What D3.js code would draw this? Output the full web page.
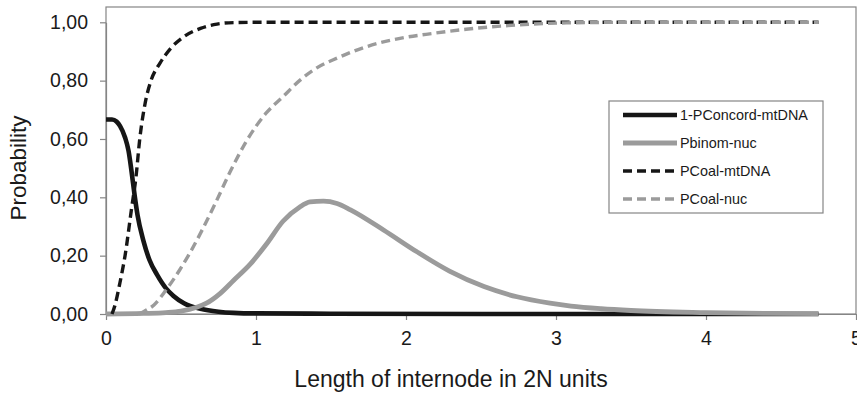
<!DOCTYPE html>
<html>
<head>
<meta charset="utf-8">
<script src="https://cdn.jsdelivr.net/npm/d3@7"></script>
<style>
  body { margin: 0; background: #fff; }
  text { font-family: "Liberation Sans", Arial, sans-serif; fill: #1a1a1a; }
</style>
</head>
<body>
<svg id="chart" width="857" height="396"></svg>
<script>
// Series (x in 2N units, probability)
const concordMt = [[0,0.667],[0.04,0.667],[0.07,0.66],[0.093,0.645],[0.127,0.605],[0.15,0.56],[0.17,0.49],[0.19,0.41],[0.21,0.34],[0.25,0.25],[0.29,0.185],[0.34,0.135],[0.4,0.088],[0.45,0.062],[0.52,0.037],[0.63,0.018],[0.75,0.008],[0.85,0.004],[1.0,0.002],[1.5,0.001],[2.5,0],[4.75,0]];
const binomNuc = [[0,0],[0.25,0.002],[0.4,0.005],[0.5,0.01],[0.6,0.022],[0.67,0.037],[0.76,0.07],[0.85,0.115],[0.96,0.17],[1.07,0.24],[1.18,0.318],[1.29,0.366],[1.36,0.384],[1.45,0.387],[1.54,0.379],[1.63,0.357],[1.85,0.288],[2.07,0.214],[2.29,0.147],[2.52,0.094],[2.74,0.059],[2.96,0.037],[3.1,0.027],[3.3,0.018],[3.5,0.012],[4.0,0.005],[4.4,0.002],[4.75,0.001]];
const coalMt = [[0.04,0],[0.06,0.03],[0.09,0.1],[0.127,0.2],[0.17,0.36],[0.2,0.47],[0.225,0.6],[0.26,0.72],[0.3,0.8],[0.36,0.86],[0.43,0.91],[0.52,0.951],[0.63,0.979],[0.74,0.994],[0.85,0.999],[1.0,1.0],[4.75,1.0]];
const coalNuc = [[0.22,0],[0.25,0.008],[0.32,0.031],[0.4,0.082],[0.49,0.15],[0.56,0.21],[0.72,0.37],[0.83,0.49],[0.94,0.596],[1.07,0.69],[1.18,0.745],[1.29,0.8],[1.4,0.842],[1.54,0.877],[1.74,0.917],[1.96,0.945],[2.18,0.962],[2.4,0.976],[2.63,0.987],[2.85,0.994],[3.07,0.998],[3.5,1.0],[4.75,1.0]];

// Legend names
const seriesNames = ["1-PConcord-mtDNA", "Pbinom-nuc", "PCoal-mtDNA", "PCoal-nuc"];

// Ticks
const xTicks = [0, 1, 2, 3, 4, 5];
const yTicks = [0, 0.2, 0.4, 0.6, 0.8, 1.0];

const svg = d3.select("svg#chart");

// Plot area
const plotLeft = 106, plotRight = 856, plotTop = 7, plotBottom = 314;

const x = d3.scaleLinear().domain([0, 5]).range([plotLeft, plotRight]);
const y = d3.scaleLinear().domain([0, 1]).range([plotBottom, 22.3]);

const black = "#161616";
const gray = "#9b9b9b";
const axisGray = "#858585";

// Frame
svg.append("rect")
  .attr("x", plotLeft)
  .attr("y", plotTop)
  .attr("width", plotRight - plotLeft)
  .attr("height", plotBottom - plotTop)
  .style("fill", "none")
  .style("stroke", axisGray)
  .style("stroke-width", 1.2);

// Axes
const fmt = d => d3.format(".2f")(d).replace(".", ",");

const yAxis = svg.append("g")
  .attr("transform", "translate(" + plotLeft + ",0)")
  .call(d3.axisLeft(y).tickValues(yTicks).tickFormat(fmt).tickSize(6).tickSizeOuter(0).tickPadding(12));

const xAxis = svg.append("g")
  .attr("transform", "translate(0," + plotBottom + ")")
  .call(d3.axisBottom(x).tickValues(xTicks).tickFormat(d3.format("d")).tickSize(6).tickSizeOuter(0).tickPadding(11));

[yAxis, xAxis].forEach(g => {
  g.selectAll("path, line").style("stroke", axisGray).style("stroke-width", 1.2);
  g.selectAll("text")
    .style("font-family", "Liberation Sans, Arial, sans-serif")
    .style("font-size", "19.5px")
    .style("fill", "#1a1a1a");
});

// Lines
const line = d3.line()
  .x(d => x(d[0]))
  .y(d => y(d[1]))
  .curve(d3.curveMonotoneX);

const series = [
  { data: concordMt, color: black, width: 4.6, dash: null },
  { data: binomNuc, color: gray, width: 4.8, dash: null },
  { data: coalMt, color: black, width: 3.4, dash: "9,5" },
  { data: coalNuc, color: gray, width: 3.4, dash: "9,5" }
];

svg.selectAll("path.series")
  .data(series)
  .join("path")
    .attr("class", "series")
    .attr("d", d => line(d.data))
    .style("fill", "none")
    .style("stroke", d => d.color)
    .style("stroke-width", d => d.width)
    .style("stroke-dasharray", d => d.dash)
    .style("stroke-linejoin", "round");

// Axis titles
svg.append("text")
  .attr("x", 451)
  .attr("y", 387)
  .style("font-size", "23px")
  .style("text-anchor", "middle")
  .text("Length of internode in 2N units");

svg.append("text")
  .attr("transform", "translate(26,168) rotate(-90)")
  .style("font-size", "22.5px")
  .style("text-anchor", "middle")
  .text("Probability");

// Legend
const legend = svg.append("g")
  .attr("class", "legend")
  .attr("transform", "translate(609,101)");

legend.append("rect")
  .attr("width", 214)
  .attr("height", 112)
  .style("fill", "white")
  .style("stroke", axisGray)
  .style("stroke-width", 1.2);

const rows = legend.selectAll("g.row")
  .data(series)
  .join("g")
    .attr("class", "row")
    .attr("transform", (d, i) => "translate(0," + (14 + i * 28) + ")");

rows.append("line")
  .attr("x1", 14)
  .attr("x2", 68)
  .style("stroke", d => d.color)
  .style("stroke-width", d => d.width)
  .style("stroke-dasharray", d => d.dash);

rows.append("text")
  .attr("x", 71)
  .attr("y", 5)
  .style("font-size", "14.4px")
  .text((d, i) => seriesNames[i]);
</script>
</body>
</html>
